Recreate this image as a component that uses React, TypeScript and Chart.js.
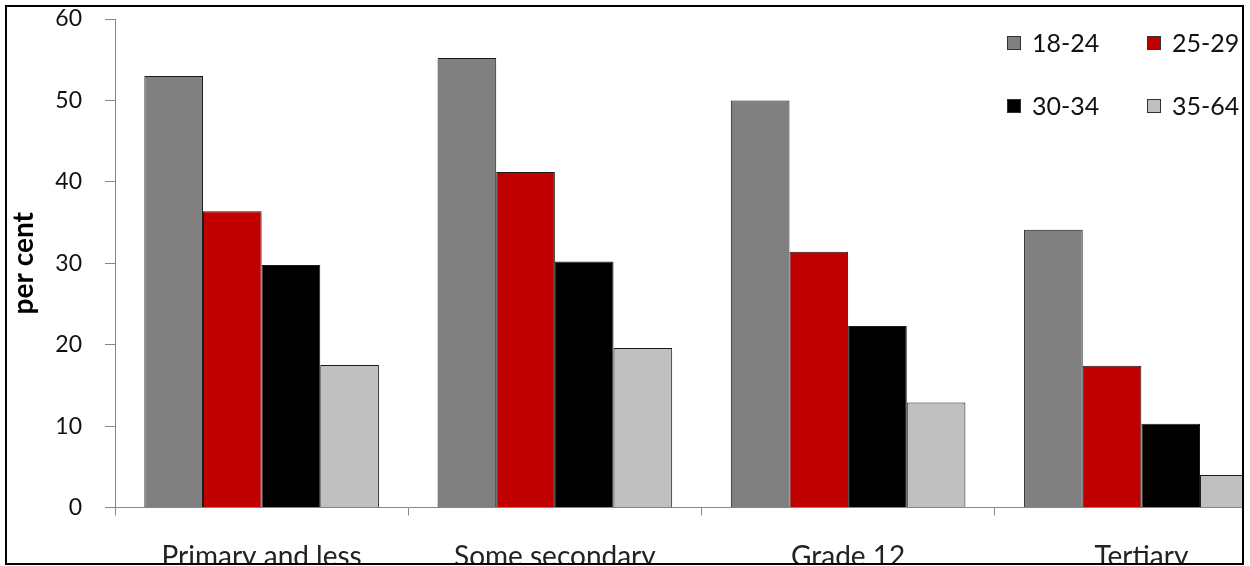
import React, { useEffect, useRef } from "react";
import { Chart, registerables } from "chart.js";

Chart.register(...registerables);

const categories = ["Primary and less", "Some secondary", "Grade 12", "Tertiary"];
const seriesLabels = ["18-24", "25-29", "30-34", "35-64"];
const age18to24 = [53.0, 55.2, 50.0, 34.1];
const age25to29 = [36.4, 41.2, 31.4, 17.4];
const age30to34 = [29.8, 30.2, 22.3, 10.3];
const age35to64 = [17.5, 19.6, 12.9, 4.0];
const seriesColors = ["#808080", "#C00000", "#000000", "#C0C0C0"];
const yMin = 0;
const yMax = 60;
const yStep = 10;
const yTitle = "per cent";

const FONT = "Lato, 'Open Sans', sans-serif";

const gridLegend = {
  id: "gridLegend",
  afterDraw(chart: any) {
    const ctx = chart.ctx;
    const cols = [1000, 1140];
    const rows = [76, 139];
    const size = 14;
    ctx.save();
    ctx.font = `25px ${FONT}`;
    ctx.textBaseline = "middle";
    ctx.textAlign = "left";
    chart.data.datasets.forEach((ds: any, i: number) => {
      const x = cols[i % 2];
      const y = rows[Math.floor(i / 2)];
      ctx.fillStyle = ds.backgroundColor;
      ctx.fillRect(x, y - size / 2, size, size);
      ctx.strokeStyle = "#333";
      ctx.lineWidth = 1;
      ctx.strokeRect(x + 0.5, y - size / 2 + 0.5, size - 1, size - 1);
      ctx.fillStyle = "#111";
      ctx.fillText(ds.label, x + size + 11, y + 1);
    });
    ctx.restore();
  },
};

export default function App() {
  const ref = useRef<HTMLCanvasElement | null>(null);

  useEffect(() => {
    if (!ref.current) return;
    const seriesValues = [age18to24, age25to29, age30to34, age35to64];
    const chart = new Chart(ref.current, {
      type: "bar",
      data: {
        labels: categories,
        datasets: seriesLabels.map((label, i) => ({
          label,
          data: seriesValues[i],
          backgroundColor: seriesColors[i],
          borderColor: "#1a1a1a",
          borderWidth: 1,
          borderSkipped: "bottom",
          categoryPercentage: 0.8,
          barPercentage: 1.0,
        })),
      },
      options: {
        responsive: false,
        animation: false,
        devicePixelRatio: 1,
        layout: { padding: { top: 52, left: 0, right: 0, bottom: 0 } },
        plugins: {
          legend: { display: false },
          tooltip: { enabled: false },
        },
        scales: {
          x: {
            grid: {
              display: true,
              drawOnChartArea: false,
              drawTicks: true,
              tickLength: 8,
              color: "#868686",
              offset: true,
            },
            border: { display: true, color: "#868686", width: 1 },
            ticks: {
              color: "#222",
              font: { family: FONT, size: 28 },
              padding: 25,
              maxRotation: 0,
              autoSkip: false,
            },
            afterFit(scale: any) {
              scale.height = 99.5;
            },
          },
          y: {
            min: yMin,
            max: yMax,
            ticks: {
              stepSize: yStep,
              color: "#111",
              font: { family: FONT, size: 23 },
              padding: 23,
            },
            grid: {
              display: true,
              drawOnChartArea: false,
              drawTicks: true,
              tickLength: 10,
              color: "#868686",
            },
            border: { display: true, color: "#868686", width: 1 },
            title: {
              display: true,
              text: yTitle,
              color: "#000",
              font: { family: FONT, size: 28, weight: "bold" },
              padding: { top: 0, bottom: 0 },
            },
            afterFit(scale: any) {
              scale.width = 108;
            },
          },
        },
      },
      plugins: [gridLegend],
    });
    return () => chart.destroy();
  }, []);

  return (
    <div
      style={{
        position: "absolute",
        left: 5,
        top: 5,
        width: 1235,
        height: 556,
        border: "2px solid #000",
        overflow: "hidden",
        background: "#fff",
      }}
    >
      <canvas
        ref={ref}
        width={1281}
        height={640}
        style={{ position: "absolute", left: 0, top: -40, width: 1281, height: 640 }}
      />
    </div>
  );
}
